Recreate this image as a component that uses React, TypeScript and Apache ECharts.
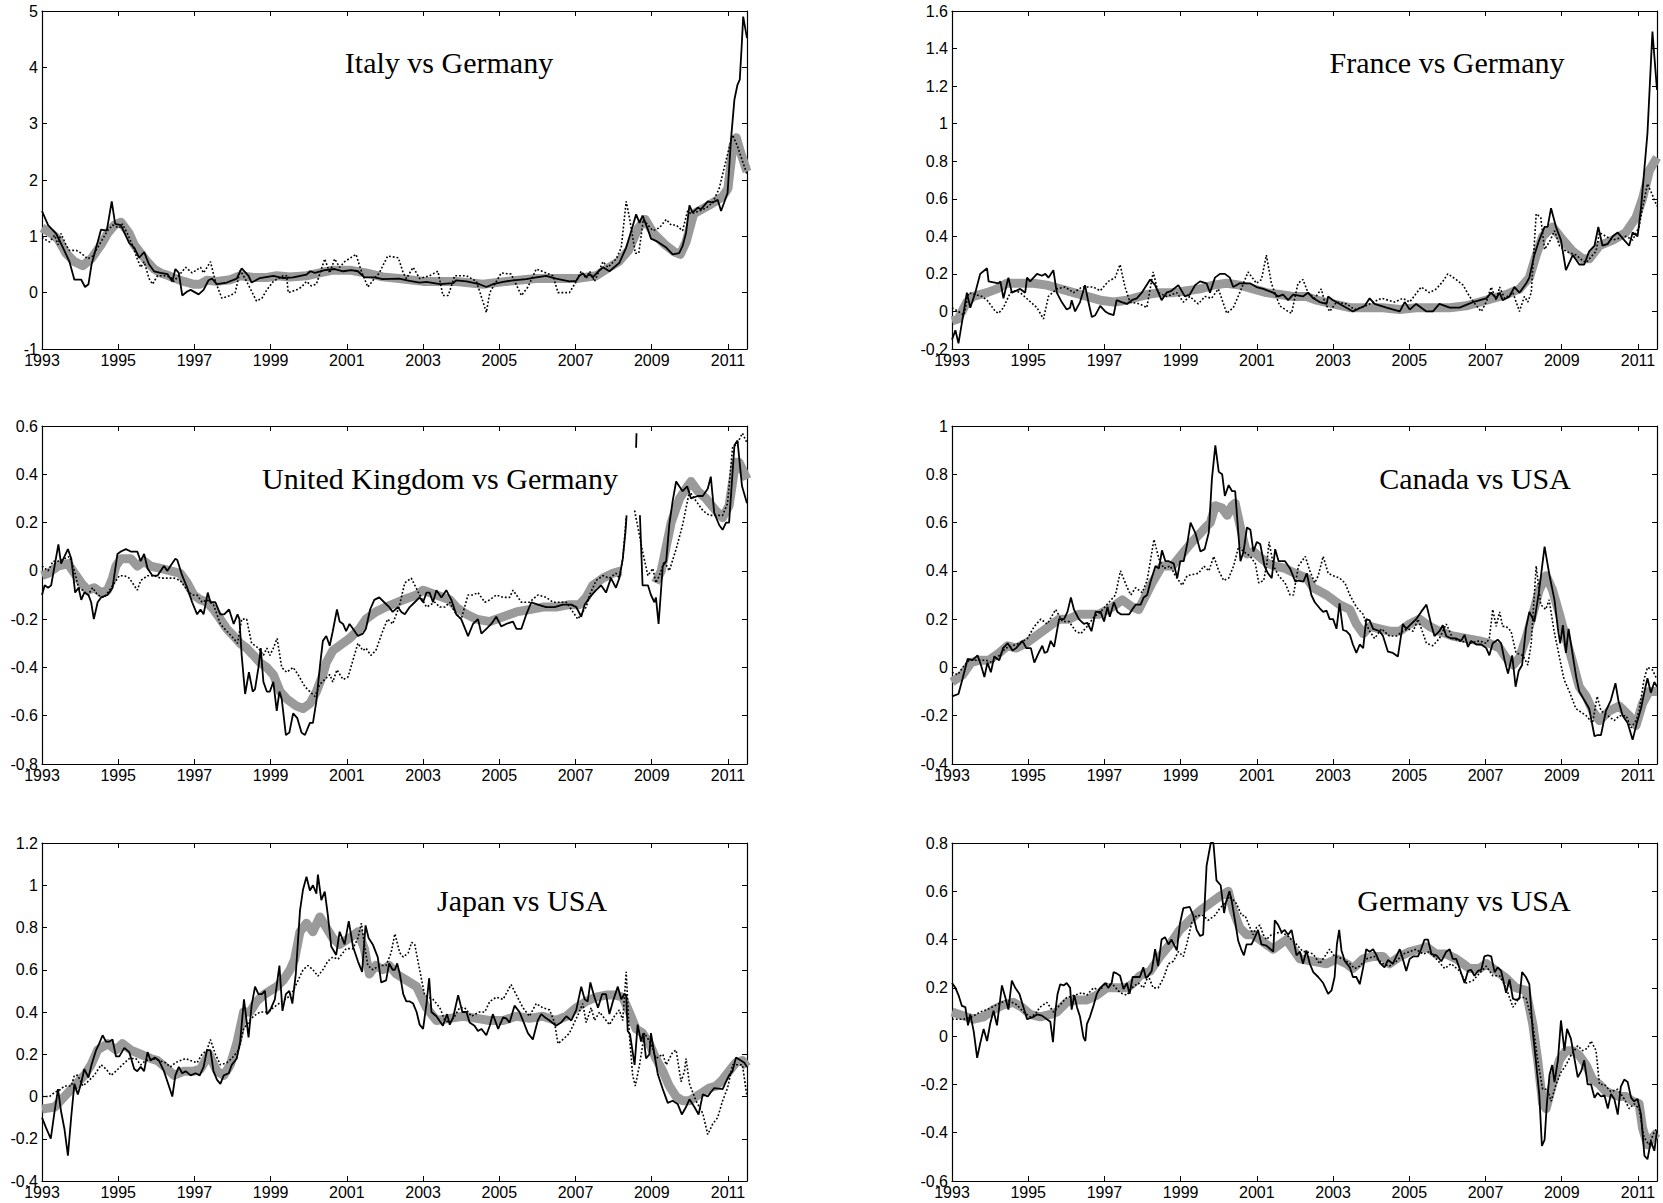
import React, { useEffect, useRef } from "react";
import * as echarts from "echarts";

type Pt = [number, number | null];

// ---------- panel metadata ----------
const titles = [
  "Italy vs Germany",
  "France vs Germany",
  "United Kingdom vs Germany",
  "Canada vs USA",
  "Japan vs USA",
  "Germany vs USA",
];
const yMins = [-1, -0.2, -0.8, -0.4, -0.4, -0.6];
const yMaxs = [5, 1.6, 0.6, 1, 1.2, 0.8];
const yIntervals = [1, 0.2, 0.2, 0.2, 0.2, 0.2];
const xMin = 1993;
const xMax = 2011.5;
const xInterval = 2;

// ---------- Italy vs Germany ----------
const italySolid: Pt[] = [[1993.0,1.45],[1993.16,1.2],[1993.37,1.05],[1993.55,0.8],[1993.72,0.55],[1993.85,0.23],[1994.03,0.23],[1994.13,0.1],[1994.22,0.15],[1994.3,0.5],[1994.55,1.12],[1994.7,1.1],[1994.83,1.62],[1994.92,1.22],[1995.07,1.2],[1995.29,0.88],[1995.42,0.8],[1995.55,0.62],[1995.68,0.72],[1995.81,0.5],[1995.94,0.38],[1996.11,0.35],[1996.29,0.33],[1996.42,0.2],[1996.5,0.42],[1996.59,0.35],[1996.68,-0.05],[1996.81,0.02],[1996.9,0.05],[1997.11,-0.03],[1997.24,0.05],[1997.37,0.22],[1997.46,0.25],[1997.59,0.15],[1997.85,0.18],[1998.11,0.25],[1998.24,0.43],[1998.42,0.3],[1998.5,0.18],[1998.72,0.26],[1999.07,0.3],[1999.33,0.26],[1999.59,0.27],[1999.94,0.32],[2000.04,0.38],[2000.16,0.35],[2000.42,0.4],[2000.68,0.42],[2000.9,0.38],[2001.11,0.4],[2001.29,0.38],[2001.46,0.27],[2001.72,0.27],[2001.94,0.24],[2002.37,0.25],[2002.65,0.21],[2002.91,0.18],[2003.09,0.19],[2003.44,0.15],[2003.79,0.17],[2003.87,0.22],[2004.14,0.2],[2004.48,0.15],[2004.66,0.1],[2004.83,0.15],[2005.1,0.19],[2005.36,0.22],[2005.71,0.24],[2005.97,0.27],[2006.23,0.3],[2006.49,0.25],[2006.84,0.2],[2007.02,0.21],[2007.1,0.3],[2007.19,0.34],[2007.28,0.28],[2007.37,0.33],[2007.45,0.27],[2007.59,0.37],[2007.72,0.45],[2007.89,0.38],[2008.15,0.53],[2008.33,0.8],[2008.5,1.18],[2008.59,1.39],[2008.68,1.24],[2008.76,1.37],[2008.9,1.12],[2008.98,0.96],[2009.11,0.92],[2009.38,0.8],[2009.55,0.68],[2009.72,0.7],[2009.81,0.83],[2009.9,1.06],[2009.99,1.55],[2010.07,1.42],[2010.21,1.51],[2010.29,1.48],[2010.47,1.62],[2010.6,1.6],[2010.73,1.65],[2010.82,1.45],[2010.99,1.77],[2011.08,2.72],[2011.17,3.43],[2011.25,3.69],[2011.31,3.78],[2011.36,4.37],[2011.4,4.9],[2011.5,4.52]];
const italyDotted: Pt[] = [[1993.0,0.98],[1993.07,0.95],[1993.2,0.9],[1993.33,1.02],[1993.42,0.85],[1993.5,1.05],[1993.63,0.85],[1993.72,0.75],[1993.9,0.75],[1994.03,0.7],[1994.2,0.6],[1994.33,0.65],[1994.46,0.8],[1994.59,0.95],[1994.72,1.1],[1994.85,1.2],[1995.03,1.15],[1995.11,1.22],[1995.24,1.05],[1995.37,0.85],[1995.5,0.6],[1995.59,0.45],[1995.68,0.55],[1995.81,0.25],[1995.9,0.15],[1996.03,0.3],[1996.2,0.3],[1996.37,0.28],[1996.46,0.2],[1996.77,0.45],[1996.94,0.35],[1997.16,0.45],[1997.24,0.35],[1997.42,0.55],[1997.55,0.2],[1997.72,-0.1],[1997.94,-0.05],[1998.07,0.0],[1998.2,0.4],[1998.37,0.2],[1998.63,-0.15],[1998.77,-0.1],[1998.9,0.05],[1999.07,0.2],[1999.33,0.3],[1999.42,0.3],[1999.46,0.0],[1999.68,0.05],[1999.81,0.1],[1999.94,0.2],[2000.07,0.12],[2000.2,0.15],[2000.42,0.6],[2000.55,0.35],[2000.68,0.6],[2000.81,0.45],[2000.94,0.55],[2001.24,0.68],[2001.37,0.4],[2001.55,0.1],[2001.72,0.25],[2001.85,0.35],[2002.07,0.65],[2002.35,0.62],[2002.48,0.35],[2002.56,0.25],[2002.74,0.45],[2002.91,0.25],[2003.17,0.3],[2003.39,0.38],[2003.52,-0.05],[2003.66,-0.05],[2003.83,0.3],[2004.14,0.3],[2004.4,0.2],[2004.66,-0.35],[2004.75,0.0],[2004.88,0.15],[2005.05,0.35],[2005.31,0.33],[2005.58,-0.05],[2005.75,0.1],[2005.97,0.42],[2006.23,0.35],[2006.41,0.3],[2006.54,0.0],[2006.71,0.0],[2006.84,0.0],[2007.02,0.2],[2007.15,0.38],[2007.28,0.25],[2007.37,0.38],[2007.5,0.2],[2007.72,0.55],[2007.85,0.45],[2008.07,0.6],[2008.2,0.8],[2008.33,1.62],[2008.41,1.35],[2008.57,0.7],[2008.66,0.7],[2008.78,1.3],[2008.9,1.2],[2009.03,1.1],[2009.2,1.15],[2009.38,1.3],[2009.51,1.2],[2009.64,1.2],[2009.81,1.1],[2009.94,1.45],[2010.03,1.4],[2010.25,1.45],[2010.42,1.5],[2010.6,1.6],[2010.77,1.85],[2010.95,2.35],[2011.12,2.8],[2011.25,2.6],[2011.5,2.1]];
const italyBand: Pt[] = [[1993.0,1.15],[1993.25,1.05],[1993.42,0.95],[1993.63,0.7],[1993.85,0.55],[1994.07,0.48],[1994.29,0.6],[1994.55,0.85],[1994.72,1.05],[1994.9,1.2],[1995.07,1.25],[1995.29,1.05],[1995.42,0.85],[1995.59,0.7],[1995.76,0.55],[1995.94,0.42],[1996.11,0.35],[1996.33,0.3],[1996.5,0.25],[1996.72,0.2],[1996.98,0.15],[1997.15,0.15],[1997.33,0.22],[1997.59,0.2],[1997.94,0.23],[1998.2,0.3],[1998.55,0.27],[1998.9,0.27],[1999.16,0.3],[1999.5,0.28],[1999.94,0.3],[2000.29,0.35],[2000.63,0.4],[2001.07,0.4],[2001.5,0.35],[2001.94,0.28],[2002.37,0.25],[2003.0,0.2],[2003.87,0.2],[2004.57,0.15],[2005.18,0.2],[2005.97,0.25],[2006.49,0.25],[2007.02,0.25],[2007.54,0.3],[2007.89,0.45],[2008.13,0.55],[2008.39,0.75],[2008.65,1.15],[2008.83,1.3],[2009.05,1.05],[2009.35,0.85],[2009.6,0.72],[2009.75,0.68],[2009.9,0.9],[2010.1,1.4],[2010.5,1.55],[2010.85,1.7],[2011.0,1.85],[2011.13,2.6],[2011.22,2.75],[2011.35,2.45],[2011.5,2.15]];

// ---------- France vs Germany ----------
const franceSolid: Pt[] = [[1993.0,-0.15],[1993.09,-0.1],[1993.17,-0.17],[1993.31,0.0],[1993.39,0.1],[1993.48,0.02],[1993.61,0.1],[1993.74,0.2],[1993.92,0.23],[1993.96,0.16],[1994.22,0.15],[1994.27,0.16],[1994.35,0.07],[1994.48,0.18],[1994.57,0.1],[1994.79,0.12],[1994.92,0.1],[1994.97,0.18],[1995.05,0.16],[1995.23,0.2],[1995.36,0.19],[1995.45,0.2],[1995.53,0.18],[1995.66,0.22],[1995.75,0.1],[1995.88,0.05],[1996.01,0.01],[1996.1,0.02],[1996.14,0.06],[1996.23,0.0],[1996.36,0.05],[1996.49,0.14],[1996.58,0.05],[1996.67,-0.03],[1996.76,-0.02],[1996.89,0.03],[1997.02,0.0],[1997.1,-0.01],[1997.24,-0.02],[1997.32,0.06],[1997.45,0.05],[1997.59,0.04],[1997.72,0.06],[1997.85,0.07],[1997.98,0.1],[1998.2,0.17],[1998.33,0.14],[1998.5,0.06],[1998.63,0.1],[1998.76,0.11],[1998.94,0.14],[1999.11,0.08],[1999.24,0.09],[1999.38,0.14],[1999.51,0.16],[1999.68,0.15],[1999.77,0.1],[1999.9,0.18],[2000.03,0.2],[2000.16,0.2],[2000.29,0.18],[2000.38,0.13],[2000.55,0.15],[2000.82,0.15],[2000.99,0.13],[2001.17,0.12],[2001.43,0.1],[2001.56,0.08],[2001.69,0.09],[2001.82,0.06],[2001.95,0.09],[2002.21,0.08],[2002.34,0.1],[2002.48,0.07],[2002.65,0.05],[2002.83,0.04],[2002.87,0.08],[2003.0,0.06],[2003.35,0.02],[2003.52,0.0],[2003.83,0.03],[2003.96,0.07],[2004.09,0.04],[2004.4,0.02],[2004.75,0.0],[2004.88,0.05],[2005.01,0.01],[2005.18,0.04],[2005.45,0.0],[2005.62,0.0],[2005.79,0.04],[2006.06,0.02],[2006.32,0.02],[2006.67,0.05],[2007.02,0.07],[2007.15,0.1],[2007.28,0.07],[2007.37,0.1],[2007.45,0.06],[2007.63,0.08],[2007.76,0.13],[2007.89,0.1],[2008.07,0.15],[2008.15,0.18],[2008.28,0.3],[2008.41,0.38],[2008.55,0.45],[2008.63,0.45],[2008.72,0.55],[2008.85,0.45],[2008.98,0.38],[2009.11,0.22],[2009.29,0.3],[2009.46,0.25],[2009.59,0.25],[2009.72,0.32],[2009.86,0.35],[2009.96,0.45],[2010.07,0.35],[2010.21,0.36],[2010.34,0.4],[2010.47,0.42],[2010.64,0.38],[2010.77,0.35],[2010.86,0.42],[2010.99,0.4],[2011.08,0.55],[2011.25,0.95],[2011.38,1.49],[2011.5,1.18]];
const franceDotted: Pt[] = [[1993.0,0.02],[1993.17,0.0],[1993.31,-0.02],[1993.44,0.1],[1993.79,0.08],[1993.92,0.06],[1994.14,0.0],[1994.22,-0.01],[1994.35,0.02],[1994.53,0.1],[1994.66,0.11],[1994.79,0.1],[1995.01,0.06],[1995.23,0.02],[1995.4,-0.04],[1995.53,0.08],[1995.75,0.12],[1995.97,0.13],[1996.19,0.1],[1996.41,0.13],[1996.71,0.13],[1996.89,0.11],[1997.1,0.16],[1997.28,0.18],[1997.41,0.25],[1997.54,0.13],[1997.67,0.05],[1997.93,0.04],[1998.11,0.02],[1998.28,0.21],[1998.41,0.1],[1998.63,0.08],[1998.9,0.1],[1999.07,0.05],[1999.24,0.08],[1999.46,0.04],[1999.64,0.08],[1999.81,0.07],[1999.99,0.12],[2000.21,-0.01],[2000.38,0.02],[2000.55,0.1],[2000.77,0.21],[2000.99,0.15],[2001.12,0.17],[2001.25,0.3],[2001.38,0.15],[2001.6,0.03],[2001.82,0.0],[2001.91,-0.01],[2002.08,0.15],[2002.21,0.17],[2002.34,0.1],[2002.52,0.07],[2002.69,0.12],[2002.78,0.05],[2002.91,0.0],[2003.09,0.05],[2003.35,0.04],[2003.57,0.01],[2003.74,0.02],[2003.96,0.04],[2004.27,0.07],[2004.62,0.05],[2004.83,0.07],[2005.01,0.05],[2005.31,0.13],[2005.53,0.1],[2005.71,0.12],[2005.88,0.16],[2006.01,0.2],[2006.23,0.17],[2006.41,0.14],[2006.58,0.08],[2006.76,0.03],[2006.89,0.0],[2007.02,0.05],[2007.15,0.13],[2007.28,0.06],[2007.37,0.13],[2007.5,0.07],[2007.72,0.1],[2007.89,0.0],[2008.02,0.08],[2008.11,0.05],[2008.2,0.1],[2008.33,0.52],[2008.45,0.5],[2008.55,0.33],[2008.7,0.38],[2008.81,0.43],[2008.94,0.35],[2009.11,0.32],[2009.38,0.3],[2009.55,0.27],[2009.64,0.26],[2009.81,0.3],[2009.9,0.32],[2009.99,0.42],[2010.16,0.4],[2010.34,0.38],[2010.69,0.4],[2010.86,0.38],[2011.03,0.45],[2011.12,0.55],[2011.25,0.68],[2011.38,0.62],[2011.5,0.56]];
const franceBand: Pt[] = [[1993.0,-0.05],[1993.16,-0.04],[1993.39,0.05],[1993.56,0.08],[1993.92,0.1],[1994.18,0.12],[1994.44,0.15],[1994.79,0.15],[1995.14,0.15],[1995.49,0.14],[1995.84,0.12],[1996.19,0.1],[1996.54,0.08],[1996.89,0.06],[1997.24,0.05],[1997.59,0.06],[1997.76,0.07],[1998.11,0.09],[1998.46,0.1],[1998.81,0.1],[1999.16,0.11],[1999.51,0.12],[1999.86,0.14],[2000.2,0.15],[2000.55,0.14],[2000.9,0.12],[2001.25,0.1],[2001.6,0.09],[2001.95,0.08],[2002.3,0.08],[2002.57,0.06],[2003.0,0.04],[2003.44,0.02],[2003.87,0.02],[2004.31,0.02],[2004.75,0.01],[2005.18,0.02],[2005.62,0.02],[2006.06,0.02],[2006.49,0.03],[2006.84,0.05],[2007.19,0.07],[2007.54,0.09],[2007.89,0.12],[2008.15,0.18],[2008.33,0.3],[2008.5,0.4],[2008.76,0.45],[2009.03,0.38],[2009.29,0.32],[2009.55,0.28],[2009.72,0.28],[2009.99,0.35],[2010.34,0.38],[2010.68,0.42],[2010.95,0.5],[2011.12,0.6],[2011.3,0.75],[2011.5,0.82]];

// ---------- United Kingdom vs Germany ----------
const ukSolid: Pt[] = [[1993.0,-0.1],[1993.07,-0.06],[1993.16,-0.07],[1993.24,-0.06],[1993.33,0.02],[1993.43,0.11],[1993.5,0.03],[1993.59,0.06],[1993.68,0.09],[1993.77,0.05],[1993.87,-0.09],[1993.96,-0.07],[1994.03,-0.12],[1994.11,-0.09],[1994.22,-0.1],[1994.29,-0.13],[1994.36,-0.2],[1994.46,-0.13],[1994.55,-0.11],[1994.72,-0.1],[1994.85,-0.07],[1994.98,0.07],[1995.07,0.08],[1995.2,0.09],[1995.33,0.08],[1995.5,0.08],[1995.59,0.04],[1995.68,0.07],[1995.77,0.01],[1995.9,-0.02],[1996.03,-0.02],[1996.2,0.02],[1996.29,0.0],[1996.37,0.02],[1996.5,0.05],[1996.55,0.045],[1996.68,-0.02],[1996.81,-0.07],[1996.94,-0.13],[1997.07,-0.18],[1997.16,-0.16],[1997.24,-0.18],[1997.35,-0.09],[1997.42,-0.13],[1997.55,-0.13],[1997.68,-0.18],[1997.78,-0.18],[1997.91,-0.16],[1998.03,-0.22],[1998.13,-0.18],[1998.18,-0.2],[1998.24,-0.35],[1998.33,-0.51],[1998.43,-0.42],[1998.53,-0.5],[1998.59,-0.49],[1998.68,-0.4],[1998.74,-0.32],[1998.81,-0.46],[1998.9,-0.5],[1998.98,-0.5],[1999.07,-0.46],[1999.16,-0.58],[1999.23,-0.5],[1999.29,-0.53],[1999.4,-0.68],[1999.49,-0.67],[1999.59,-0.59],[1999.7,-0.61],[1999.81,-0.67],[1999.9,-0.68],[2000.03,-0.63],[2000.11,-0.63],[2000.2,-0.54],[2000.29,-0.4],[2000.37,-0.29],[2000.46,-0.27],[2000.55,-0.31],[2000.63,-0.25],[2000.74,-0.16],[2000.81,-0.21],[2000.9,-0.22],[2000.98,-0.25],[2001.07,-0.22],[2001.16,-0.24],[2001.29,-0.27],[2001.42,-0.26],[2001.5,-0.24],[2001.61,-0.16],[2001.72,-0.12],[2001.85,-0.11],[2001.98,-0.13],[2002.11,-0.15],[2002.2,-0.17],[2002.34,-0.15],[2002.43,-0.17],[2002.52,-0.18],[2002.65,-0.15],[2002.78,-0.13],[2002.91,-0.11],[2003.0,-0.13],[2003.09,-0.09],[2003.17,-0.09],[2003.26,-0.13],[2003.35,-0.08],[2003.48,-0.11],[2003.61,-0.08],[2003.74,-0.12],[2003.87,-0.18],[2004.0,-0.2],[2004.18,-0.27],[2004.31,-0.22],[2004.44,-0.2],[2004.53,-0.26],[2004.66,-0.24],[2004.79,-0.22],[2004.92,-0.19],[2005.05,-0.23],[2005.18,-0.22],[2005.36,-0.21],[2005.45,-0.24],[2005.58,-0.24],[2005.71,-0.18],[2005.84,-0.13],[2006.01,-0.14],[2006.23,-0.15],[2006.45,-0.15],[2006.67,-0.14],[2006.89,-0.14],[2007.02,-0.15],[2007.15,-0.19],[2007.24,-0.14],[2007.37,-0.11],[2007.54,-0.08],[2007.67,-0.06],[2007.8,-0.09],[2007.93,-0.03],[2008.06,-0.07],[2008.15,-0.03],[2008.24,0.05],[2008.31,0.16],[2008.34,0.23],[2008.35,null],[2008.59,0.51],[2008.6,0.57],[2008.61,null],[2008.69,0.23],[2008.76,-0.06],[2008.9,-0.06],[2008.98,-0.1],[2009.07,-0.13],[2009.11,-0.11],[2009.18,-0.22],[2009.29,0.02],[2009.38,0.04],[2009.46,0.19],[2009.55,0.29],[2009.64,0.37],[2009.81,0.33],[2009.93,0.35],[2010.03,0.3],[2010.21,0.31],[2010.34,0.31],[2010.47,0.34],[2010.55,0.39],[2010.64,0.24],[2010.77,0.19],[2010.86,0.17],[2010.95,0.2],[2011.03,0.2],[2011.17,0.52],[2011.25,0.54],[2011.37,0.35],[2011.5,0.28]];
const ukDotted: Pt[] = [[1993.0,0.02],[1993.16,0.0],[1993.29,0.04],[1993.42,0.04],[1993.59,0.05],[1993.72,0.06],[1993.85,0.0],[1993.96,-0.07],[1994.07,-0.08],[1994.2,-0.1],[1994.33,-0.07],[1994.46,-0.1],[1994.63,-0.11],[1994.77,-0.08],[1994.9,-0.05],[1995.03,-0.02],[1995.16,-0.02],[1995.29,-0.03],[1995.5,-0.08],[1995.59,-0.04],[1995.77,-0.02],[1995.94,-0.02],[1996.11,-0.03],[1996.29,-0.03],[1996.46,-0.03],[1996.63,-0.04],[1996.81,-0.08],[1996.94,-0.1],[1997.07,-0.1],[1997.2,-0.13],[1997.33,-0.12],[1997.5,-0.14],[1997.68,-0.22],[1997.85,-0.25],[1998.03,-0.28],[1998.13,-0.3],[1998.24,-0.2],[1998.37,-0.2],[1998.5,-0.3],[1998.68,-0.32],[1998.81,-0.35],[1998.9,-0.32],[1998.98,-0.35],[1999.07,-0.32],[1999.17,-0.28],[1999.29,-0.4],[1999.42,-0.42],[1999.59,-0.4],[1999.72,-0.43],[1999.9,-0.48],[2000.03,-0.5],[2000.16,-0.52],[2000.29,-0.47],[2000.42,-0.45],[2000.55,-0.43],[2000.63,-0.46],[2000.74,-0.41],[2000.9,-0.45],[2001.03,-0.44],[2001.16,-0.37],[2001.29,-0.3],[2001.42,-0.33],[2001.5,-0.32],[2001.63,-0.35],[2001.76,-0.33],[2001.94,-0.25],[2002.07,-0.2],[2002.2,-0.22],[2002.37,-0.15],[2002.52,-0.05],[2002.69,-0.03],[2002.91,-0.1],[2003.09,-0.15],[2003.31,-0.13],[2003.44,-0.15],[2003.57,-0.15],[2003.7,-0.13],[2003.83,-0.17],[2004.0,-0.2],[2004.09,-0.15],[2004.18,-0.1],[2004.31,-0.1],[2004.44,-0.09],[2004.62,-0.13],[2004.75,-0.12],[2004.92,-0.1],[2005.1,-0.11],[2005.27,-0.11],[2005.36,-0.08],[2005.58,-0.13],[2005.79,-0.13],[2006.01,-0.1],[2006.23,-0.11],[2006.41,-0.13],[2006.58,-0.13],[2006.76,-0.13],[2007.06,-0.2],[2007.19,-0.17],[2007.28,-0.15],[2007.37,-0.1],[2007.54,-0.04],[2007.72,-0.02],[2007.89,-0.03],[2008.06,-0.01],[2008.15,-0.03],[2008.24,0.05],[2008.33,0.22],[2008.34,null],[2008.55,0.25],[2008.76,0.08],[2008.9,-0.02],[2009.03,0.01],[2009.11,-0.05],[2009.2,-0.02],[2009.33,0.04],[2009.46,0.0],[2009.64,0.09],[2009.81,0.19],[2009.99,0.33],[2010.16,0.29],[2010.34,0.25],[2010.51,0.23],[2010.86,0.23],[2010.99,0.28],[2011.12,0.51],[2011.25,0.53],[2011.38,0.57],[2011.5,0.53]];
const ukBand: Pt[] = [[1993.0,-0.02],[1993.16,-0.01],[1993.42,0.02],[1993.68,0.03],[1993.81,0.0],[1994.03,-0.05],[1994.2,-0.08],[1994.37,-0.07],[1994.55,-0.09],[1994.72,-0.08],[1994.85,-0.03],[1994.94,0.02],[1995.07,0.05],[1995.33,0.05],[1995.5,0.02],[1995.68,0.04],[1995.85,0.02],[1996.11,0.01],[1996.37,0.0],[1996.63,-0.01],[1996.81,-0.05],[1996.98,-0.1],[1997.16,-0.12],[1997.33,-0.13],[1997.5,-0.16],[1997.68,-0.2],[1997.85,-0.24],[1998.03,-0.27],[1998.2,-0.3],[1998.37,-0.32],[1998.55,-0.35],[1998.72,-0.38],[1998.9,-0.4],[1999.07,-0.43],[1999.25,-0.5],[1999.42,-0.53],[1999.68,-0.56],[1999.85,-0.57],[2000.03,-0.55],[2000.2,-0.5],[2000.37,-0.43],[2000.46,-0.38],[2000.63,-0.33],[2000.89,-0.3],[2001.07,-0.28],[2001.33,-0.24],[2001.5,-0.2],[2001.76,-0.17],[2002.02,-0.15],[2002.48,-0.12],[2002.83,-0.1],[2003.0,-0.08],[2003.35,-0.1],[2003.7,-0.12],[2003.87,-0.15],[2004.14,-0.18],[2004.4,-0.2],[2004.75,-0.21],[2005.1,-0.19],[2005.45,-0.17],[2005.8,-0.16],[2006.14,-0.15],[2006.49,-0.15],[2006.84,-0.14],[2007.1,-0.14],[2007.28,-0.11],[2007.45,-0.06],[2007.72,-0.03],[2007.98,-0.01],[2008.2,0.0],[2008.25,null],[2009.1,-0.05],[2009.25,0.0],[2009.38,0.1],[2009.51,0.2],[2009.73,0.3],[2009.94,0.35],[2010.03,0.37],[2010.21,0.33],[2010.42,0.3],[2010.68,0.25],[2010.86,0.22],[2011.03,0.27],[2011.2,0.45],[2011.29,0.45],[2011.5,0.38]];

// ---------- Canada vs USA ----------
const canadaSolid: Pt[] = [[1993.0,-0.12],[1993.17,-0.11],[1993.28,-0.045],[1993.41,0.035],[1993.54,0.03],[1993.67,0.05],[1993.76,0.01],[1993.85,-0.04],[1993.93,0.02],[1994.02,-0.02],[1994.11,0.045],[1994.24,0.03],[1994.34,0.08],[1994.46,0.1],[1994.59,0.07],[1994.68,0.08],[1994.85,0.11],[1994.95,0.08],[1995.07,0.08],[1995.16,0.02],[1995.29,0.065],[1995.37,0.09],[1995.43,0.06],[1995.5,0.065],[1995.59,0.11],[1995.68,0.085],[1995.81,0.2],[1995.94,0.2],[1996.03,0.23],[1996.12,0.29],[1996.2,0.24],[1996.33,0.2],[1996.46,0.18],[1996.55,0.185],[1996.66,0.15],[1996.77,0.23],[1996.9,0.23],[1996.99,0.19],[1997.08,0.25],[1997.14,0.21],[1997.25,0.27],[1997.34,0.23],[1997.43,0.22],[1997.65,0.22],[1997.73,0.24],[1997.82,0.26],[1997.95,0.26],[1998.03,0.29],[1998.12,0.3],[1998.21,0.355],[1998.34,0.42],[1998.43,0.41],[1998.51,0.485],[1998.6,0.44],[1998.69,0.44],[1998.82,0.43],[1998.91,0.37],[1998.99,0.44],[1999.08,0.44],[1999.17,0.51],[1999.26,0.6],[1999.39,0.555],[1999.52,0.48],[1999.63,0.49],[1999.74,0.56],[1999.82,0.78],[1999.91,0.92],[2000.0,0.81],[2000.09,0.8],[2000.16,0.71],[2000.26,0.755],[2000.35,0.73],[2000.43,0.73],[2000.57,0.44],[2000.65,0.48],[2000.74,0.58],[2000.83,0.57],[2000.91,0.48],[2001.0,0.52],[2001.09,0.51],[2001.2,0.42],[2001.29,0.39],[2001.39,0.37],[2001.48,0.49],[2001.57,0.44],[2001.74,0.44],[2001.87,0.41],[2002.01,0.355],[2002.09,0.36],[2002.22,0.355],[2002.31,0.39],[2002.43,0.3],[2002.52,0.27],[2002.65,0.245],[2002.74,0.23],[2002.83,0.235],[2002.91,0.2],[2003.0,0.2],[2003.09,0.16],[2003.17,0.265],[2003.26,0.155],[2003.35,0.15],[2003.44,0.135],[2003.52,0.095],[2003.61,0.06],[2003.7,0.095],[2003.79,0.08],[2003.87,0.2],[2003.96,0.195],[2004.05,0.16],[2004.14,0.155],[2004.22,0.15],[2004.31,0.13],[2004.44,0.065],[2004.57,0.06],[2004.7,0.045],[2004.83,0.18],[2004.92,0.16],[2005.05,0.18],[2005.18,0.2],[2005.31,0.23],[2005.45,0.26],[2005.58,0.175],[2005.66,0.13],[2005.79,0.15],[2005.88,0.175],[2005.97,0.13],[2006.1,0.12],[2006.23,0.12],[2006.36,0.11],[2006.45,0.135],[2006.54,0.085],[2006.62,0.11],[2006.76,0.095],[2006.89,0.095],[2007.02,0.08],[2007.1,0.05],[2007.19,0.1],[2007.32,0.115],[2007.41,0.1],[2007.5,0.03],[2007.59,-0.025],[2007.7,0.05],[2007.79,-0.08],[2007.87,-0.015],[2007.96,0.01],[2008.06,0.16],[2008.15,0.23],[2008.28,0.19],[2008.4,0.31],[2008.55,0.5],[2008.68,0.38],[2008.81,0.28],[2008.9,0.16],[2008.96,0.1],[2009.03,0.175],[2009.11,0.06],[2009.18,0.16],[2009.29,0.05],[2009.38,-0.04],[2009.46,-0.1],[2009.59,-0.135],[2009.72,-0.17],[2009.86,-0.285],[2009.94,-0.28],[2010.03,-0.28],[2010.16,-0.18],[2010.29,-0.135],[2010.41,-0.065],[2010.49,-0.14],[2010.6,-0.2],[2010.73,-0.23],[2010.86,-0.3],[2010.97,-0.23],[2011.08,-0.17],[2011.17,-0.1],[2011.25,-0.045],[2011.34,-0.105],[2011.43,-0.06],[2011.5,-0.08]];
const canadaDotted: Pt[] = [[1993.0,-0.02],[1993.15,-0.03],[1993.28,0.0],[1993.45,0.03],[1993.89,0.03],[1994.06,0.02],[1994.24,0.05],[1994.41,0.08],[1994.59,0.09],[1994.76,0.1],[1994.98,0.12],[1995.16,0.17],[1995.33,0.2],[1995.5,0.18],[1995.72,0.24],[1995.9,0.19],[1996.07,0.19],[1996.25,0.15],[1996.38,0.14],[1996.55,0.17],[1996.73,0.21],[1996.9,0.23],[1997.12,0.27],[1997.29,0.3],[1997.42,0.4],[1997.6,0.33],[1997.69,0.3],[1997.82,0.33],[1997.99,0.31],[1998.12,0.36],[1998.3,0.53],[1998.43,0.45],[1998.56,0.41],[1998.73,0.42],[1998.86,0.38],[1999.04,0.34],[1999.17,0.38],[1999.47,0.39],[1999.61,0.42],[1999.74,0.4],[1999.87,0.46],[2000.0,0.4],[2000.13,0.36],[2000.26,0.37],[2000.39,0.42],[2000.52,0.5],[2000.65,0.48],[2000.83,0.46],[2000.96,0.43],[2001.05,0.35],[2001.18,0.36],[2001.26,0.43],[2001.32,0.52],[2001.44,0.42],[2001.57,0.38],[2001.74,0.35],[2001.87,0.3],[2001.96,0.3],[2002.09,0.42],[2002.27,0.46],[2002.39,0.4],[2002.52,0.35],[2002.61,0.38],[2002.74,0.46],[2002.87,0.39],[2003.0,0.38],[2003.17,0.37],[2003.31,0.35],[2003.44,0.3],[2003.61,0.25],[2003.79,0.22],[2003.87,0.18],[2003.96,0.15],[2004.09,0.12],[2004.27,0.16],[2004.48,0.13],[2004.66,0.13],[2004.83,0.15],[2004.97,0.16],[2005.1,0.15],[2005.23,0.2],[2005.45,0.1],[2005.62,0.09],[2005.79,0.12],[2005.97,0.18],[2006.14,0.12],[2006.32,0.11],[2006.58,0.1],[2006.84,0.11],[2007.02,0.1],[2007.1,0.12],[2007.19,0.24],[2007.28,0.17],[2007.37,0.23],[2007.45,0.17],[2007.54,0.17],[2007.67,0.15],[2007.8,0.06],[2007.98,0.05],[2008.11,0.01],[2008.2,0.1],[2008.28,0.3],[2008.33,0.42],[2008.45,0.26],[2008.58,0.24],[2008.67,0.28],[2008.8,0.15],[2008.93,0.05],[2009.06,-0.05],[2009.2,-0.1],[2009.37,-0.17],[2009.64,-0.2],[2009.81,-0.23],[2009.93,-0.12],[2010.03,-0.18],[2010.21,-0.2],[2010.38,-0.22],[2010.51,-0.2],[2010.69,-0.2],[2010.82,-0.25],[2010.95,-0.22],[2011.03,-0.18],[2011.16,-0.05],[2011.25,0.0],[2011.38,-0.01],[2011.5,-0.05]];
const canadaBand: Pt[] = [[1993.0,-0.06],[1993.28,-0.03],[1993.5,0.02],[1993.71,0.03],[1993.97,0.03],[1994.24,0.06],[1994.46,0.09],[1994.68,0.08],[1994.94,0.1],[1995.2,0.13],[1995.46,0.16],[1995.81,0.2],[1996.07,0.2],[1996.33,0.22],[1996.6,0.22],[1996.86,0.22],[1997.21,0.25],[1997.47,0.28],[1997.73,0.25],[1997.9,0.24],[1998.25,0.35],[1998.51,0.42],[1998.78,0.42],[1999.04,0.47],[1999.3,0.52],[1999.48,0.55],[1999.65,0.58],[1999.78,0.6],[1999.91,0.67],[2000.09,0.66],[2000.22,0.63],[2000.35,0.67],[2000.43,0.68],[2000.61,0.55],[2000.74,0.47],[2000.91,0.48],[2001.13,0.45],[2001.3,0.43],[2001.48,0.42],[2001.74,0.41],[2002.0,0.39],[2002.31,0.37],[2002.48,0.33],[2002.83,0.3],[2003.17,0.26],[2003.44,0.24],[2003.61,0.18],[2003.79,0.14],[2003.96,0.17],[2004.22,0.16],[2004.48,0.15],[2004.75,0.15],[2005.01,0.18],[2005.27,0.2],[2005.53,0.17],[2005.79,0.15],[2006.14,0.13],[2006.49,0.12],[2006.84,0.11],[2007.1,0.1],[2007.37,0.08],[2007.54,0.04],[2007.72,0.01],[2007.89,0.04],[2008.06,0.12],[2008.24,0.22],[2008.41,0.32],[2008.59,0.38],[2008.76,0.32],[2008.94,0.22],[2009.11,0.12],[2009.29,0.02],[2009.46,-0.08],[2009.64,-0.12],[2009.81,-0.18],[2009.99,-0.22],[2010.25,-0.18],[2010.51,-0.16],[2010.77,-0.2],[2010.95,-0.24],[2011.12,-0.15],[2011.29,-0.1],[2011.5,-0.1]];

// ---------- Japan vs USA ----------
const japanSolid: Pt[] = [[1993.0,-0.1],[1993.11,-0.15],[1993.23,-0.2],[1993.33,-0.07],[1993.42,0.035],[1993.5,-0.07],[1993.59,-0.155],[1993.68,-0.28],[1993.77,-0.09],[1993.85,0.06],[1993.94,0.01],[1994.03,0.065],[1994.11,0.13],[1994.22,0.09],[1994.3,0.15],[1994.42,0.22],[1994.5,0.25],[1994.59,0.29],[1994.68,0.26],[1994.77,0.26],[1994.85,0.27],[1994.94,0.19],[1995.03,0.19],[1995.16,0.23],[1995.29,0.21],[1995.42,0.13],[1995.5,0.12],[1995.59,0.14],[1995.68,0.12],[1995.77,0.21],[1995.85,0.17],[1995.96,0.185],[1996.07,0.17],[1996.2,0.12],[1996.33,0.05],[1996.42,0.0],[1996.5,0.1],[1996.59,0.14],[1996.68,0.11],[1996.77,0.12],[1996.9,0.1],[1997.03,0.11],[1997.14,0.1],[1997.24,0.14],[1997.33,0.22],[1997.42,0.22],[1997.5,0.12],[1997.59,0.08],[1997.68,0.06],[1997.77,0.1],[1997.9,0.11],[1997.98,0.15],[1998.07,0.17],[1998.11,0.18],[1998.2,0.26],[1998.3,0.46],[1998.42,0.28],[1998.5,0.43],[1998.59,0.52],[1998.68,0.485],[1998.77,0.485],[1998.85,0.5],[1998.9,0.39],[1998.98,0.405],[1999.11,0.46],[1999.23,0.62],[1999.31,0.405],[1999.4,0.485],[1999.49,0.5],[1999.57,0.44],[1999.66,0.58],[1999.77,0.88],[1999.85,0.98],[1999.94,1.04],[2000.03,0.975],[2000.11,1.0],[2000.2,0.96],[2000.24,1.05],[2000.33,0.93],[2000.42,0.97],[2000.5,0.86],[2000.59,0.71],[2000.72,0.67],[2000.81,0.78],[2000.94,0.72],[2001.05,0.83],[2001.16,0.71],[2001.29,0.64],[2001.4,0.59],[2001.49,0.81],[2001.57,0.75],[2001.68,0.72],[2001.81,0.66],[2001.9,0.54],[2002.03,0.55],[2002.11,0.63],[2002.2,0.6],[2002.26,0.6],[2002.32,0.63],[2002.39,0.58],[2002.48,0.485],[2002.56,0.45],[2002.65,0.45],[2002.74,0.44],[2002.83,0.4],[2002.91,0.34],[2003.0,0.32],[2003.09,0.44],[2003.16,0.56],[2003.22,0.4],[2003.35,0.38],[2003.52,0.335],[2003.63,0.39],[2003.7,0.34],[2003.79,0.375],[2003.92,0.48],[2004.03,0.4],[2004.14,0.4],[2004.22,0.35],[2004.35,0.335],[2004.44,0.31],[2004.53,0.32],[2004.66,0.29],[2004.75,0.335],[2004.83,0.39],[2004.97,0.32],[2005.1,0.375],[2005.18,0.37],[2005.27,0.35],[2005.4,0.43],[2005.53,0.4],[2005.62,0.36],[2005.75,0.3],[2005.88,0.27],[2006.01,0.36],[2006.1,0.39],[2006.23,0.37],[2006.32,0.36],[2006.49,0.335],[2006.62,0.35],[2006.76,0.38],[2006.89,0.36],[2007.02,0.41],[2007.15,0.52],[2007.24,0.46],[2007.32,0.45],[2007.39,0.54],[2007.48,0.48],[2007.59,0.42],[2007.7,0.485],[2007.8,0.485],[2007.89,0.39],[2007.98,0.45],[2008.11,0.52],[2008.2,0.46],[2008.28,0.485],[2008.33,0.48],[2008.37,0.31],[2008.43,0.295],[2008.55,0.15],[2008.63,0.34],[2008.72,0.26],[2008.78,0.3],[2008.85,0.18],[2008.94,0.2],[2008.98,0.3],[2009.07,0.2],[2009.16,0.105],[2009.29,0.035],[2009.42,-0.03],[2009.55,-0.02],[2009.68,-0.035],[2009.79,-0.085],[2009.9,-0.05],[2009.99,-0.013],[2010.12,-0.05],[2010.23,-0.085],[2010.34,0.01],[2010.47,0.0],[2010.55,0.02],[2010.64,0.04],[2010.86,0.035],[2010.95,0.07],[2011.03,0.1],[2011.12,0.12],[2011.21,0.185],[2011.34,0.17],[2011.43,0.16],[2011.5,0.14]];
const japanDotted: Pt[] = [[1993.0,0.0],[1993.2,0.0],[1993.33,0.02],[1993.46,0.03],[1993.59,0.05],[1993.77,0.05],[1993.85,0.1],[1993.94,0.1],[1994.07,0.05],[1994.2,0.07],[1994.37,0.1],[1994.55,0.15],[1994.68,0.13],[1994.81,0.1],[1994.94,0.12],[1995.11,0.15],[1995.29,0.18],[1995.46,0.18],[1995.59,0.15],[1995.72,0.17],[1995.9,0.18],[1996.07,0.17],[1996.24,0.16],[1996.37,0.14],[1996.5,0.16],[1996.63,0.17],[1996.77,0.18],[1996.9,0.17],[1997.07,0.16],[1997.2,0.2],[1997.33,0.22],[1997.42,0.27],[1997.55,0.2],[1997.68,0.15],[1997.85,0.16],[1997.98,0.18],[1998.16,0.22],[1998.29,0.32],[1998.42,0.35],[1998.55,0.38],[1998.72,0.4],[1998.9,0.4],[1999.07,0.42],[1999.29,0.45],[1999.46,0.47],[1999.59,0.5],[1999.72,0.55],[1999.85,0.6],[1999.98,0.62],[2000.11,0.6],[2000.24,0.57],[2000.37,0.6],[2000.5,0.64],[2000.63,0.66],[2000.77,0.65],[2000.98,0.7],[2001.16,0.7],[2001.29,0.75],[2001.38,0.82],[2001.46,0.72],[2001.55,0.62],[2001.68,0.6],[2001.85,0.62],[2002.03,0.62],[2002.16,0.68],[2002.26,0.77],[2002.39,0.68],[2002.48,0.66],[2002.61,0.68],[2002.7,0.73],[2002.78,0.72],[2002.91,0.6],[2003.04,0.48],[2003.26,0.46],[2003.44,0.42],[2003.57,0.36],[2003.7,0.35],[2003.83,0.38],[2003.96,0.42],[2004.09,0.42],[2004.27,0.38],[2004.48,0.4],[2004.62,0.4],[2004.75,0.45],[2004.92,0.47],[2005.1,0.46],[2005.31,0.53],[2005.45,0.48],[2005.62,0.42],[2005.79,0.38],[2005.97,0.44],[2006.14,0.42],[2006.32,0.41],[2006.45,0.35],[2006.54,0.25],[2006.67,0.27],[2006.84,0.3],[2006.97,0.35],[2007.1,0.4],[2007.19,0.44],[2007.28,0.35],[2007.41,0.42],[2007.5,0.36],[2007.63,0.4],[2007.89,0.34],[2008.02,0.38],[2008.15,0.41],[2008.24,0.36],[2008.33,0.59],[2008.41,0.3],[2008.5,0.1],[2008.57,0.05],[2008.68,0.15],[2008.81,0.3],[2008.98,0.25],[2009.11,0.18],[2009.29,0.2],[2009.38,0.15],[2009.55,0.21],[2009.64,0.22],[2009.77,0.07],[2009.86,0.12],[2009.9,0.18],[2009.99,0.06],[2010.16,-0.02],[2010.34,-0.08],[2010.47,-0.18],[2010.6,-0.13],[2010.73,-0.1],[2010.86,-0.02],[2010.99,0.04],[2011.12,0.15],[2011.25,0.15],[2011.38,0.15],[2011.5,0.0]];
const japanBand: Pt[] = [[1993.0,-0.06],[1993.33,-0.05],[1993.59,0.0],[1993.85,0.05],[1994.11,0.1],[1994.29,0.15],[1994.46,0.22],[1994.72,0.25],[1994.94,0.22],[1995.11,0.25],[1995.33,0.22],[1995.59,0.2],[1995.85,0.18],[1996.03,0.17],[1996.29,0.13],[1996.46,0.1],[1996.72,0.12],[1996.98,0.12],[1997.16,0.13],[1997.38,0.2],[1997.59,0.12],[1997.77,0.1],[1997.94,0.15],[1998.11,0.25],[1998.29,0.4],[1998.46,0.4],[1998.63,0.45],[1998.81,0.48],[1998.98,0.5],[1999.16,0.52],[1999.33,0.55],[1999.51,0.6],[1999.63,0.65],[1999.77,0.78],[1999.94,0.82],[2000.11,0.78],[2000.29,0.85],[2000.46,0.8],[2000.63,0.75],[2000.81,0.72],[2001.07,0.75],[2001.29,0.78],[2001.46,0.7],[2001.59,0.58],[2001.76,0.62],[2001.94,0.6],[2002.11,0.62],[2002.3,0.58],[2002.57,0.55],[2002.83,0.52],[2003.09,0.42],[2003.35,0.36],[2003.7,0.37],[2004.05,0.38],[2004.4,0.37],[2004.75,0.36],[2005.1,0.36],[2005.45,0.38],[2005.79,0.37],[2006.14,0.38],[2006.49,0.36],[2006.76,0.38],[2007.02,0.42],[2007.28,0.45],[2007.54,0.47],[2007.8,0.48],[2008.06,0.48],[2008.24,0.47],[2008.41,0.4],[2008.59,0.32],[2008.76,0.3],[2008.94,0.25],[2009.11,0.18],[2009.29,0.12],[2009.46,0.05],[2009.64,0.0],[2009.81,-0.02],[2009.99,-0.02],[2010.16,0.0],[2010.34,0.02],[2010.51,0.04],[2010.69,0.05],[2010.86,0.08],[2011.03,0.12],[2011.21,0.16],[2011.38,0.17],[2011.5,0.14]];

// ---------- Germany vs USA ----------
const germanySolid: Pt[] = [[1993.0,0.22],[1993.09,0.2],[1993.17,0.17],[1993.26,0.125],[1993.35,0.12],[1993.42,0.045],[1993.48,0.09],[1993.57,0.02],[1993.66,-0.09],[1993.74,-0.03],[1993.83,0.03],[1993.92,-0.02],[1994.0,0.05],[1994.09,0.105],[1994.18,0.045],[1994.31,0.21],[1994.4,0.16],[1994.48,0.11],[1994.57,0.23],[1994.66,0.2],[1994.77,0.175],[1994.97,0.07],[1995.14,0.08],[1995.23,0.09],[1995.36,0.085],[1995.49,0.07],[1995.58,0.06],[1995.65,-0.025],[1995.71,0.1],[1995.77,0.175],[1995.84,0.215],[1995.93,0.21],[1996.01,0.22],[1996.1,0.2],[1996.14,0.11],[1996.21,0.17],[1996.28,0.12],[1996.36,0.08],[1996.45,-0.005],[1996.5,-0.02],[1996.54,0.05],[1996.62,0.08],[1996.71,0.125],[1996.8,0.175],[1996.89,0.2],[1997.02,0.22],[1997.1,0.2],[1997.19,0.22],[1997.24,0.265],[1997.32,0.26],[1997.41,0.25],[1997.5,0.195],[1997.59,0.22],[1997.66,0.175],[1997.74,0.245],[1997.93,0.245],[1998.02,0.285],[1998.09,0.24],[1998.15,0.25],[1998.24,0.27],[1998.33,0.36],[1998.41,0.29],[1998.5,0.4],[1998.59,0.41],[1998.68,0.38],[1998.76,0.4],[1998.9,0.355],[1998.98,0.465],[1999.07,0.53],[1999.24,0.535],[1999.33,0.5],[1999.42,0.44],[1999.51,0.415],[1999.59,0.42],[1999.68,0.705],[1999.79,0.8],[1999.86,0.8],[1999.94,0.645],[2000.05,0.625],[2000.14,0.51],[2000.19,0.555],[2000.28,0.6],[2000.34,0.56],[2000.42,0.485],[2000.51,0.395],[2000.6,0.355],[2000.66,0.335],[2000.73,0.38],[2000.86,0.38],[2000.95,0.41],[2001.03,0.44],[2001.12,0.38],[2001.25,0.375],[2001.43,0.35],[2001.47,0.48],[2001.56,0.46],[2001.65,0.43],[2001.73,0.44],[2001.82,0.42],[2001.91,0.44],[2002.04,0.335],[2002.13,0.35],[2002.21,0.3],[2002.3,0.355],[2002.39,0.3],[2002.48,0.265],[2002.61,0.245],[2002.74,0.22],[2002.87,0.175],[2002.96,0.19],[2003.04,0.245],[2003.1,0.38],[2003.16,0.44],[2003.22,0.355],[2003.31,0.31],[2003.44,0.285],[2003.52,0.245],[2003.61,0.245],[2003.7,0.215],[2003.79,0.285],[2003.87,0.36],[2003.96,0.35],[2004.05,0.36],[2004.14,0.335],[2004.22,0.305],[2004.35,0.285],[2004.44,0.315],[2004.57,0.3],[2004.66,0.33],[2004.75,0.36],[2004.83,0.32],[2004.92,0.27],[2005.01,0.32],[2005.1,0.33],[2005.23,0.33],[2005.31,0.36],[2005.4,0.4],[2005.49,0.4],[2005.58,0.34],[2005.71,0.335],[2005.84,0.31],[2005.97,0.35],[2006.06,0.36],[2006.14,0.32],[2006.23,0.32],[2006.32,0.28],[2006.45,0.22],[2006.54,0.27],[2006.62,0.275],[2006.71,0.25],[2006.8,0.27],[2006.89,0.275],[2006.97,0.33],[2007.06,0.335],[2007.15,0.33],[2007.24,0.265],[2007.32,0.285],[2007.41,0.27],[2007.54,0.18],[2007.63,0.235],[2007.72,0.155],[2007.8,0.15],[2007.89,0.155],[2007.96,0.265],[2008.06,0.245],[2008.15,0.215],[2008.24,0.02],[2008.33,-0.115],[2008.41,-0.24],[2008.48,-0.455],[2008.55,-0.43],[2008.61,-0.28],[2008.68,-0.16],[2008.75,-0.12],[2008.81,-0.19],[2008.9,-0.1],[2008.98,0.065],[2009.07,-0.06],[2009.14,0.03],[2009.24,-0.01],[2009.33,-0.09],[2009.42,-0.17],[2009.51,-0.145],[2009.59,-0.1],[2009.68,-0.2],[2009.77,-0.2],[2009.86,-0.255],[2009.94,-0.235],[2010.03,-0.25],[2010.12,-0.245],[2010.21,-0.3],[2010.29,-0.24],[2010.38,-0.26],[2010.47,-0.325],[2010.55,-0.21],[2010.64,-0.18],[2010.73,-0.19],[2010.82,-0.255],[2010.9,-0.27],[2010.99,-0.26],[2011.08,-0.325],[2011.17,-0.495],[2011.25,-0.51],[2011.34,-0.435],[2011.43,-0.475],[2011.5,-0.39]];
const germanyDotted: Pt[] = [[1993.0,0.07],[1993.31,0.07],[1993.52,0.08],[1993.74,0.1],[1993.92,0.11],[1994.18,0.13],[1994.44,0.15],[1994.7,0.13],[1994.88,0.1],[1995.05,0.08],[1995.18,0.09],[1995.31,0.12],[1995.49,0.14],[1995.66,0.1],[1995.84,0.13],[1996.01,0.16],[1996.23,0.17],[1996.41,0.18],[1996.54,0.17],[1996.71,0.2],[1996.89,0.19],[1997.02,0.22],[1997.24,0.21],[1997.41,0.18],[1997.59,0.17],[1997.72,0.2],[1997.89,0.22],[1998.02,0.2],[1998.15,0.25],[1998.28,0.2],[1998.41,0.2],[1998.55,0.24],[1998.68,0.3],[1998.81,0.31],[1998.94,0.35],[1999.07,0.33],[1999.16,0.38],[1999.29,0.47],[1999.42,0.5],[1999.59,0.5],[1999.72,0.48],[1999.9,0.5],[2000.03,0.53],[2000.16,0.55],[2000.29,0.58],[2000.46,0.55],[2000.6,0.5],[2000.69,0.5],[2000.82,0.45],[2000.9,0.42],[2000.99,0.45],[2001.08,0.46],[2001.17,0.42],[2001.25,0.4],[2001.38,0.42],[2001.6,0.43],[2001.78,0.42],[2001.91,0.4],[2002.04,0.38],[2002.21,0.35],[2002.3,0.35],[2002.48,0.34],[2002.65,0.3],[2002.78,0.33],[2002.91,0.36],[2003.04,0.33],[2003.26,0.32],[2003.44,0.3],[2003.57,0.28],[2003.7,0.29],[2003.87,0.32],[2004.09,0.33],[2004.31,0.3],[2004.48,0.29],[2004.66,0.31],[2004.83,0.34],[2005.01,0.35],[2005.18,0.36],[2005.36,0.34],[2005.53,0.35],[2005.71,0.32],[2005.93,0.28],[2006.1,0.3],[2006.32,0.27],[2006.49,0.22],[2006.67,0.23],[2006.84,0.26],[2007.02,0.29],[2007.19,0.25],[2007.37,0.25],[2007.54,0.2],[2007.72,0.12],[2007.89,0.16],[2008.06,0.16],[2008.24,0.05],[2008.37,-0.1],[2008.5,-0.22],[2008.63,-0.22],[2008.72,-0.27],[2008.85,-0.2],[2008.98,-0.15],[2009.11,-0.12],[2009.24,-0.08],[2009.42,-0.04],[2009.55,-0.06],[2009.68,-0.05],[2009.77,-0.02],[2009.9,-0.06],[2009.99,-0.2],[2010.12,-0.2],[2010.29,-0.23],[2010.47,-0.22],[2010.64,-0.26],[2010.77,-0.3],[2010.9,-0.28],[2011.03,-0.3],[2011.16,-0.42],[2011.29,-0.45],[2011.42,-0.4],[2011.5,-0.38]];
const germanyBand: Pt[] = [[1993.0,0.1],[1993.57,0.07],[1993.83,0.08],[1994.09,0.11],[1994.35,0.13],[1994.61,0.14],[1994.83,0.12],[1995.05,0.09],[1995.31,0.08],[1995.58,0.09],[1995.75,0.1],[1996.01,0.14],[1996.28,0.15],[1996.54,0.15],[1996.8,0.17],[1997.06,0.2],[1997.32,0.2],[1997.59,0.2],[1997.76,0.22],[1997.93,0.25],[1998.2,0.27],[1998.46,0.33],[1998.72,0.38],[1998.98,0.44],[1999.24,0.48],[1999.51,0.52],[1999.77,0.55],[2000.03,0.58],[2000.25,0.6],[2000.38,0.52],[2000.55,0.45],[2000.73,0.42],[2000.9,0.42],[2001.08,0.4],[2001.25,0.38],[2001.43,0.36],[2001.6,0.38],[2001.78,0.4],[2001.95,0.36],[2002.13,0.32],[2002.48,0.31],[2002.83,0.3],[2003.09,0.32],[2003.35,0.3],[2003.52,0.28],[2003.79,0.32],[2004.05,0.33],[2004.31,0.33],[2004.48,0.3],[2004.75,0.33],[2005.01,0.35],[2005.27,0.36],[2005.45,0.37],[2005.71,0.34],[2005.97,0.34],[2006.23,0.32],[2006.41,0.3],[2006.58,0.28],[2006.84,0.28],[2007.02,0.3],[2007.28,0.27],[2007.54,0.24],[2007.8,0.2],[2008.06,0.19],[2008.24,0.05],[2008.37,-0.1],[2008.5,-0.28],[2008.59,-0.3],[2008.76,-0.2],[2008.94,-0.1],[2009.11,-0.06],[2009.29,-0.06],[2009.46,-0.08],[2009.64,-0.12],[2009.81,-0.18],[2009.99,-0.2],[2010.16,-0.23],[2010.34,-0.24],[2010.51,-0.25],[2010.69,-0.25],[2010.86,-0.27],[2011.03,-0.28],[2011.12,-0.38],[2011.25,-0.45],[2011.38,-0.42],[2011.5,-0.4]];

const solids = [italySolid, franceSolid, ukSolid, canadaSolid, japanSolid, germanySolid];
const dotteds = [italyDotted, franceDotted, ukDotted, canadaDotted, japanDotted, germanyDotted];
const bands = [italyBand, franceBand, ukBand, canadaBand, japanBand, germanyBand];

// ---------- layout (pixels) ----------
const W = 1663;
const H = 1203;
const colLeft = [42, 952];
const rowTop = [11, 426, 843];
const plotW = 705;
const plotH = 338;
const titleX = [449, 1447, 440, 1475, 522, 1464];
const titleY = [62, 62, 478, 478, 900, 900];

const AXIS_FONT = "'Liberation Sans', Arial, sans-serif";
const TITLE_FONT = "'Liberation Serif', 'Times New Roman', serif";

const toData = (pts: Pt[]) => pts.map((p) => [p[0], p[1] === null ? "-" : p[1]]);

function buildOption() {
  const grid: any[] = [];
  const xAxis: any[] = [];
  const yAxis: any[] = [];
  const series: any[] = [];
  const graphic: any[] = [];

  for (let i = 0; i < 6; i++) {
    const col = i % 2;
    const row = Math.floor(i / 2);
    grid.push({ left: colLeft[col], top: rowTop[row], width: plotW, height: plotH, containLabel: false });

    const lineStyle = { color: "#000", width: 1.2 };
    const tick = { show: true, inside: true, length: 5, lineStyle: { color: "#000", width: 1 } };
    const xBase = {
      type: "value", gridIndex: i, min: xMin, max: xMax, interval: xInterval,
      splitLine: { show: false }, axisLine: { show: true, onZero: false, lineStyle }, axisTick: tick,
    };
    xAxis.push({
      ...xBase, position: "bottom",
      axisLabel: {
        show: true, color: "#000", fontSize: 16, fontFamily: AXIS_FONT, margin: 3,
        formatter: (v: number) => (Math.abs(v - Math.round(v)) < 1e-6 ? String(Math.round(v)) : ""),
      },
    });
    xAxis.push({ ...xBase, position: "top", axisLabel: { show: false } });

    const yBase = {
      type: "value", gridIndex: i, min: yMins[i], max: yMaxs[i], interval: yIntervals[i],
      splitLine: { show: false }, axisLine: { show: true, onZero: false, lineStyle }, axisTick: tick,
    };
    yAxis.push({
      ...yBase, position: "left",
      axisLabel: {
        show: true, color: "#000", fontSize: 16, fontFamily: AXIS_FONT, margin: 4,
        formatter: (v: number) => String(Math.round(v * 100) / 100),
      },
    });
    yAxis.push({ ...yBase, position: "right", axisLabel: { show: false } });

    const common = {
      type: "line", xAxisIndex: 2 * i, yAxisIndex: 2 * i, showSymbol: false, symbol: "none",
      connectNulls: false, silent: true, animation: false,
    };
    series.push({
      ...common, name: titles[i] + " band", z: 1, data: toData(bands[i]),
      lineStyle: { color: "#9a9a9a", width: 9, join: "round", cap: "butt" },
    });
    series.push({
      ...common, name: titles[i] + " dotted", z: 2, data: toData(dotteds[i]),
      lineStyle: { color: "#000", width: 1.6, type: [1.8, 2.0] },
    });
    series.push({
      ...common, name: titles[i] + " solid", z: 3, data: toData(solids[i]),
      lineStyle: { color: "#000", width: 1.8 },
    });

    graphic.push({
      type: "text", x: titleX[i], y: titleY[i], z: 100,
      style: { text: titles[i], font: `30px ${TITLE_FONT}`, fill: "#000", textAlign: "center", textVerticalAlign: "middle" },
    });
  }

  return { animation: false, backgroundColor: "#fff", grid, xAxis, yAxis, series, graphic };
}

export default function App() {
  const ref = useRef<HTMLDivElement>(null);
  useEffect(() => {
    if (!ref.current) return;
    const chart = echarts.init(ref.current, undefined, { renderer: "svg", width: W, height: H });
    chart.setOption(buildOption() as any);
    return () => chart.dispose();
  }, []);
  return (
    <div
      ref={ref}
      style={{ position: "absolute", left: 0, top: 0, width: W, height: H, background: "#fff" }}
    />
  );
}
